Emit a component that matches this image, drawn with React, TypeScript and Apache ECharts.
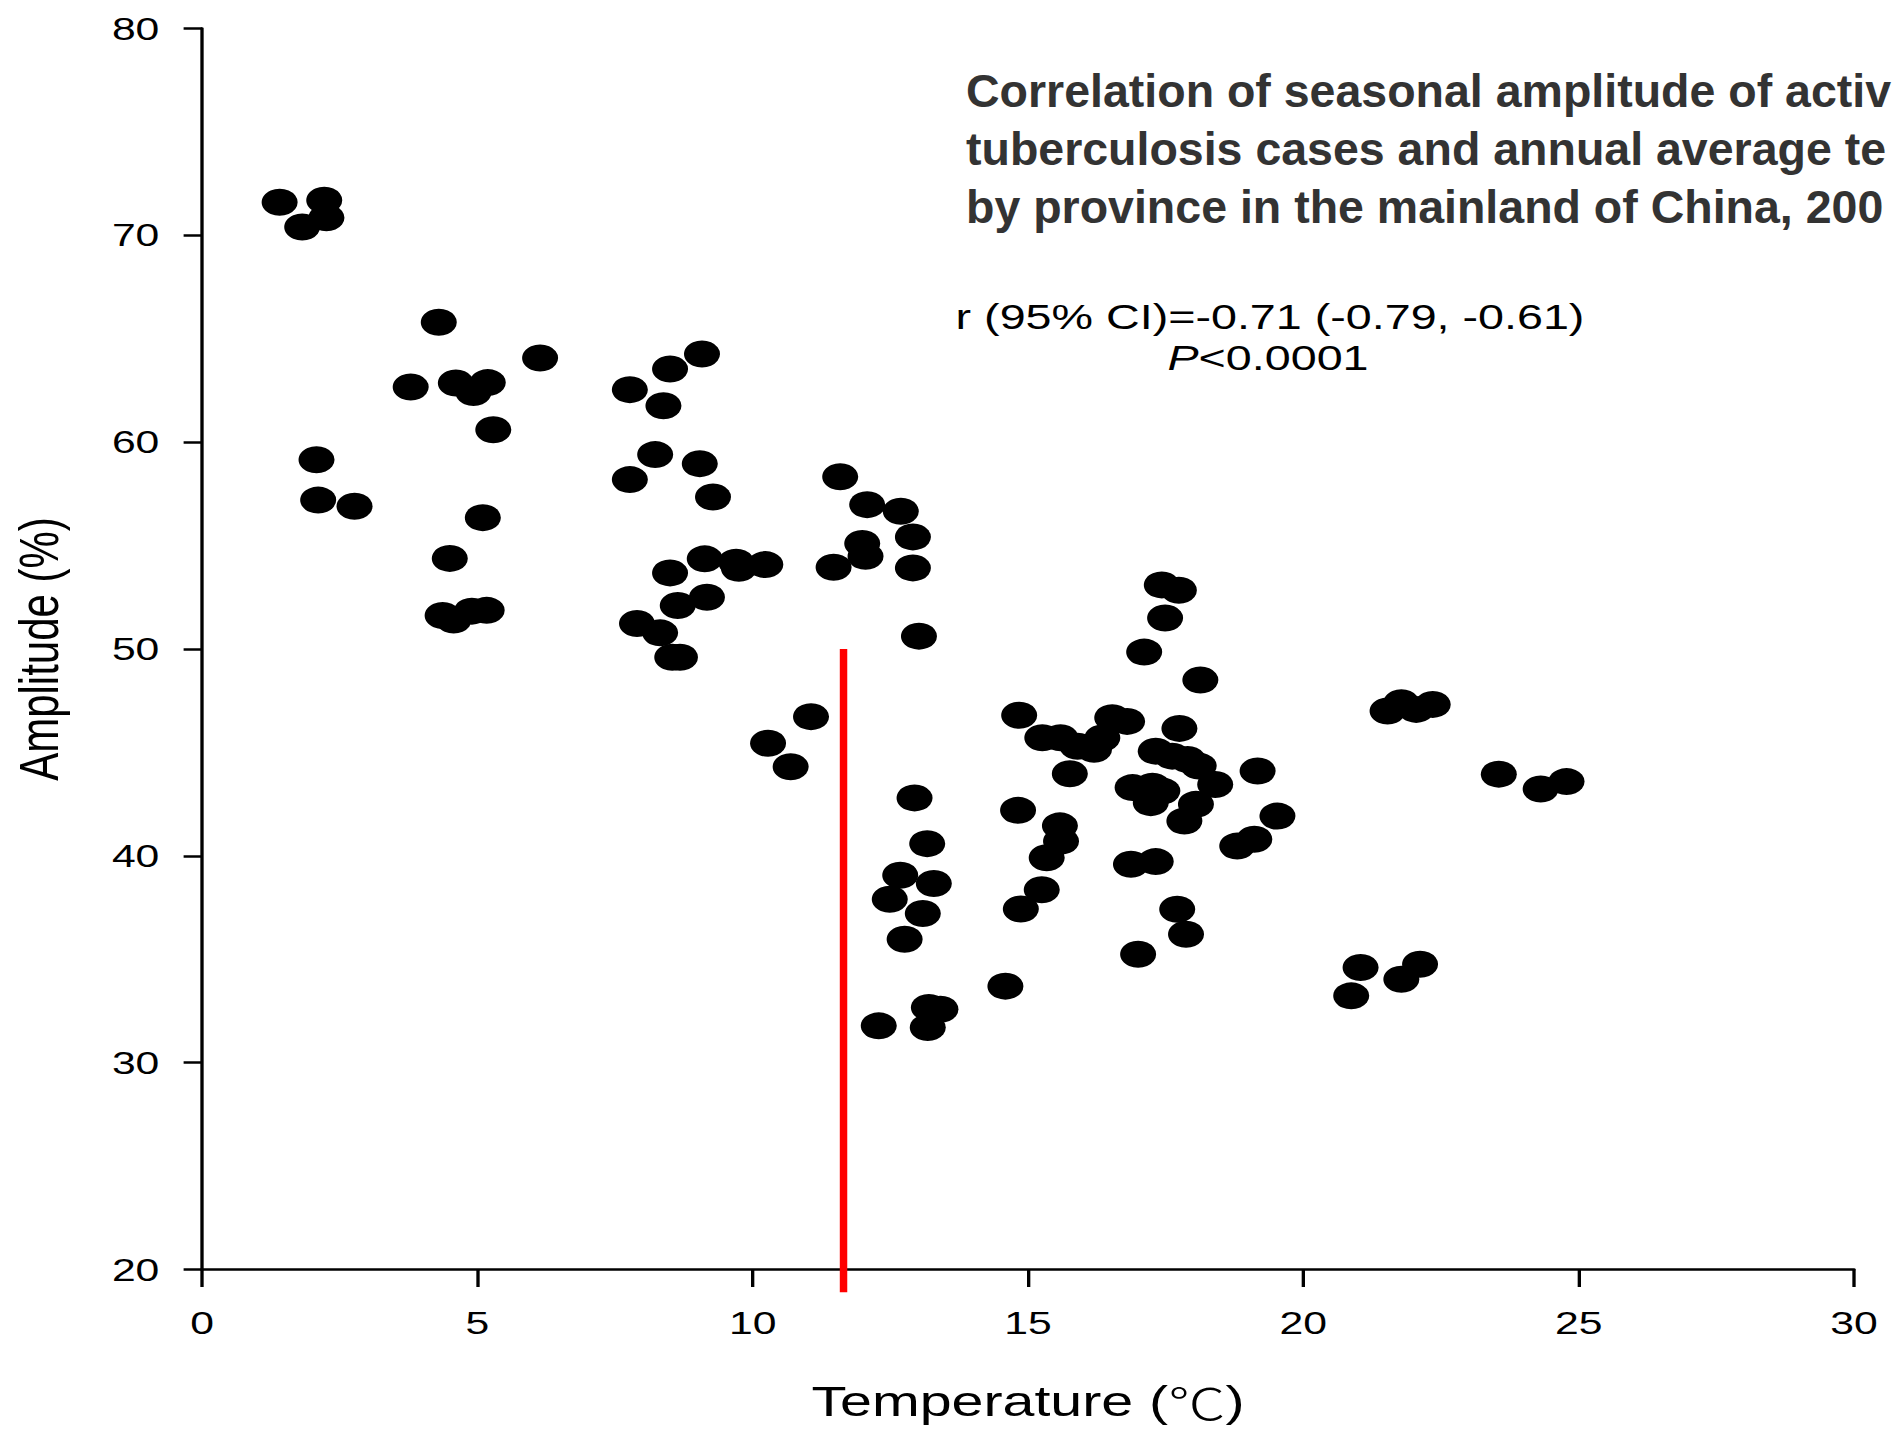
import React, { useEffect, useRef } from "react";
import * as echarts from "echarts";

// Annual average temperature (°C) by province-year
const temperature = [
  1.41, 1.82, 2.22, 2.26, 2.08, 2.11, 2.77, 4.3, 3.79, 4.61, 4.93, 5.19, 5.29, 6.14, 5.1, 4.5, 4.37, 4.57, 4.9, 5.17,
  9.08, 8.5, 7.77, 8.38, 8.23, 7.77, 9.04, 9.28, 9.13, 8.5, 9.7, 9.75, 10.23, 9.17, 8.64, 7.9, 8.32, 8.54, 8.68,
  10.28, 10.69, 11.06,
  11.59, 12.08, 12.69, 12.91, 11.99, 12.05, 11.47, 12.91, 13.02,
  12.94, 13.17, 12.68, 13.29, 12.49, 13.09, 12.76, 12.29, 13.2, 13.41, 13.18,
  14.59, 14.87, 15.25, 15.34, 15.6, 15.58, 14.82, 14.84, 15.26, 15.59, 15.9, 16.2, 16.35, 16.53, 16.8, 15.76,
  17.11, 17.43, 17.74, 17.49, 18.13, 17.75, 17.32, 17.62, 17.9, 18.1, 18.4, 19.17,
  16.9, 17.26, 17.44, 17.23, 18.05, 17.84, 19.53, 18.8, 19.11, 16.87, 17.32, 17.71, 17.87, 17.0,
  21.53, 21.78, 22.05, 22.35, 21.04, 20.87, 21.78, 22.12, 23.55, 24.31, 24.78,
];

// Seasonal amplitude (%) for the same points
const amplitude = [
  71.6, 70.4, 71.7, 70.85, 59.15, 57.2, 56.9, 65.8, 62.67, 62.86, 62.4, 62.88, 60.6, 64.07, 56.35, 54.38, 51.62, 51.4, 51.83, 51.87,
  64.26, 63.54, 62.54, 61.76, 59.4, 58.19, 58.96, 57.35, 54.36, 53.68, 54.2, 53.9, 54.08, 52.5, 52.1, 51.23, 50.78, 49.6, 49.6,
  45.44, 44.31, 46.73,
  58.33, 56.98, 56.66, 55.42, 55.1, 54.48, 53.95, 53.92, 50.62,
  42.8, 40.59, 39.06, 38.66, 37.9, 37.21, 35.97, 31.78, 32.67, 32.58, 31.7,
  33.7, 37.43, 38.36, 39.91, 40.71, 41.45, 42.2, 46.8, 45.71, 45.71, 45.3, 45.15, 45.7, 46.68, 46.5, 43.97,
  49.85, 53.1, 52.84, 51.5, 48.5, 46.16, 45.06, 44.82, 44.66, 44.34, 43.45, 44.1,
  43.3, 43.37, 43.13, 42.57, 42.49, 41.68, 41.92, 40.47, 40.8, 39.59, 39.72, 37.42, 36.21, 35.24,
  47.0, 47.4, 47.08, 47.32, 34.6, 33.23, 34.03, 34.76, 43.95, 43.23, 43.59,
];

// Red reference line
const redLineX = [11.65, 11.65];
const redLineY = [50, 18.9];

// Title as it is visible in the reference (cut by the picture's right edge)
const titleLines = [
  "Correlation of seasonal amplitude of activ",
  "tuberculosis cases and annual average te",
  "by province in the mainland of China, 200",
];
const corrText = "r (95% CI)=-0.71 (-0.79, -0.61)";
const pText = "<0.0001";

const STRETCH = 4 / 3;
const FULL_W = 1896;
const FULL_H = 1432;
const W = FULL_W / STRETCH;

const FONT = "'Liberation Sans', Arial, 'Noto Sans CJK SC', sans-serif";

export default function App() {
  const ref = useRef<HTMLDivElement | null>(null);

  useEffect(() => {
    document.body.style.margin = "0";
    document.body.style.overflow = "hidden";
    if (!ref.current) return;
    const chart = echarts.init(ref.current, undefined, { renderer: "svg" });
    const points = temperature.map((t, i) => [t, amplitude[i]]);
    const red = redLineX.map((x, i) => [x, redLineY[i]]);

    chart.setOption({
      animation: false,
      backgroundColor: "#ffffff",
      grid: { left: 151, right: 31.5, top: 28.5, bottom: 162.5, containLabel: false },
      xAxis: {
        type: "value",
        min: 0,
        max: 30,
        interval: 5,
        name: "Temperature ({c|℃})",
        nameLocation: "middle",
        nameGap: 110,
        nameTextStyle: {
          fontSize: 43,
          color: "#000",
          fontFamily: FONT,
          rich: {
            c: { fontSize: 43, color: "#000", fontFamily: "'Noto Sans CJK SC', sans-serif", fontWeight: 300 },
          },
        },
        axisLine: { show: true, onZero: false, lineStyle: { color: "#000", width: 2.5 } },
        axisTick: { show: true, length: 17.5, lineStyle: { color: "#000", width: 2.5 } },
        axisLabel: { fontSize: 32, color: "#000", margin: 37, fontFamily: FONT },
        splitLine: { show: false },
      },
      yAxis: {
        type: "value",
        min: 20,
        max: 80,
        interval: 10,
        name: "Amplitude (%)",
        nameLocation: "middle",
        nameGap: 101.5,
        nameTextStyle: { fontSize: 42, color: "#000", fontFamily: FONT },
        axisLine: { show: true, onZero: false, lineStyle: { color: "#000", width: 2.5 } },
        axisTick: { show: true, length: 13.8, lineStyle: { color: "#000", width: 2.5 } },
        axisLabel: { fontSize: 32, color: "#000", margin: 32, fontFamily: FONT },
        splitLine: { show: false },
      },
      graphic: [
        {
          type: "text",
          x: 724.5,
          y: 149,
          scaleX: 1 / STRETCH,
          style: {
            text: titleLines.join("\n"),
            fontSize: 46.5,
            fontWeight: "bold",
            fontFamily: FONT,
            fill: "#333333",
            lineHeight: 58,
            align: "left",
            verticalAlign: "middle",
          },
        },
        {
          type: "text",
          x: 952.5,
          y: 317,
          style: {
            text: corrText,
            fontSize: 35,
            fontFamily: FONT,
            fill: "#000",
            align: "center",
            verticalAlign: "middle",
          },
        },
        {
          type: "text",
          x: 951,
          y: 358,
          style: {
            text: "{i|P}" + pText,
            fontSize: 35,
            fontFamily: FONT,
            fill: "#000",
            align: "center",
            verticalAlign: "middle",
            rich: {
              i: { fontSize: 35, fontStyle: "italic", fontFamily: FONT, fill: "#000" },
            },
          },
        },
      ],
      series: [
        {
          type: "scatter",
          data: points,
          symbol: "circle",
          symbolSize: 27,
          itemStyle: { color: "#000", opacity: 1 },
          z: 2,
        },
        {
          type: "line",
          data: red,
          symbol: "none",
          clip: false,
          lineStyle: { color: "#ff0000", width: 5.6 },
          z: 3,
        },
      ],
    });

    return () => chart.dispose();
  }, []);

  return (
    <div style={{ width: FULL_W, height: FULL_H, overflow: "hidden", background: "#fff" }}>
      <div
        ref={ref}
        style={{
          width: W,
          height: FULL_H,
          transform: `scaleX(${STRETCH})`,
          transformOrigin: "0 0",
        }}
      />
    </div>
  );
}
